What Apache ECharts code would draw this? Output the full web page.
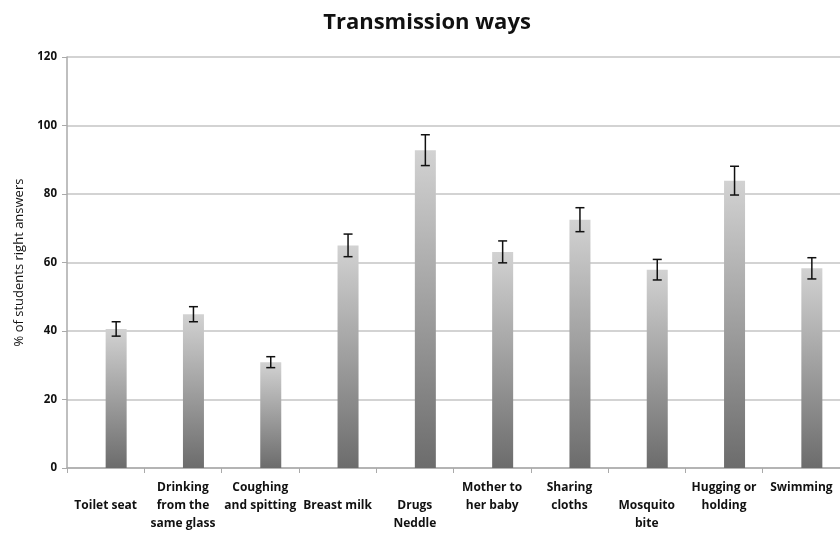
<!DOCTYPE html>
<html><head><meta charset="utf-8">
<script src="https://cdn.jsdelivr.net/npm/echarts@6/dist/echarts.min.js"></script>
<style>html,body{margin:0;padding:0;background:#fff}#c{width:840px;height:533px}</style>
</head><body><div id="c"></div>
<script>
const categories = ["Toilet seat","Drinking\nfrom the\nsame glass","Coughing\nand spitting","Breast milk","Drugs\nNeddle","Mother to\nher baby","Sharing\ncloths","Mosquito\nbite","Hugging or\nholding","Swimming"];
const values = [40.6, 44.9, 30.9, 65.0, 92.8, 63.1, 72.5, 57.9, 83.9, 58.3];
const errors = [2.1, 2.2, 1.6, 3.3, 4.5, 3.2, 3.5, 3.0, 4.2, 3.1];
const yTicks = [0, 20, 40, 60, 80, 100, 120];
// number of blank lines above each x label (layout only)
const labelLead = [1, 0, 0, 1, 1, 0, 0, 1, 0, 0];

const chart = echarts.init(document.getElementById('c'), null, {renderer: 'canvas'});
const font = '"Open Sans", Lato, sans-serif';
const BAR_W = 21;
const errData = values.map((v, i) => [i, v - errors[i], v + errors[i]]);

chart.setOption({
  animation: false,
  title: {
    text: 'Transmission ways', left: 422, top: 7, textAlign: 'center',
    textStyle: {fontFamily: font, fontSize: 22, fontWeight: 'bold', color: '#111'}
  },
  grid: {left: 67, right: -9, top: 57, bottom: 62, containLabel: false},
  xAxis: {
    type: 'category', data: categories, boundaryGap: true,
    axisLine: {lineStyle: {color: '#aaa', width: 1.5}},
    axisTick: {show: true, length: 5, lineStyle: {color: '#aaa'}},
    axisLabel: {
      interval: 0, margin: 11, lineHeight: 18, fontFamily: font, fontSize: 12, fontWeight: 'bold', color: '#111',
      formatter: (v, i) => '\n'.repeat(labelLead[i]) + v
    }
  },
  yAxis: {
    type: 'value', min: yTicks[0], max: yTicks[yTicks.length - 1], interval: 20,
    name: '% of students right answers', nameLocation: 'middle', nameGap: 41, nameRotate: 90,
    nameTextStyle: {fontFamily: font, fontSize: 13, color: '#111'},
    axisLine: {show: true, lineStyle: {color: '#aaa', width: 1.5}},
    axisTick: {show: true, length: 5, lineStyle: {color: '#aaa'}},
    axisLabel: {fontFamily: font, fontSize: 11.5, fontWeight: 'bold', color: '#111', margin: 10},
    splitLine: {lineStyle: {color: '#c4c4c4', width: 1.5}}
  },
  series: [
    {type: 'bar', name: 'blank', data: [], barWidth: BAR_W, barGap: '0%'},
    {
      type: 'bar', name: 'right answers', data: values, barWidth: BAR_W, barGap: '0%',
      itemStyle: {
        color: new echarts.graphic.LinearGradient(0, 0, 0, 1, [
          {offset: 0, color: '#d2d2d2'},
          {offset: 1, color: '#6c6c6c'}
        ])
      }
    },
    {
      type: 'custom', name: 'error', data: errData, z: 10,
      renderItem: function (params, api) {
        const i = api.value(0);
        const lo = api.coord([i, api.value(1)]);
        const hi = api.coord([i, api.value(2)]);
        const x = lo[0] + BAR_W / 2;
        const cap = 4.5;
        const style = {stroke: '#111', lineWidth: 1.5};
        return {
          type: 'group',
          children: [
            {type: 'line', shape: {x1: x, y1: hi[1], x2: x, y2: lo[1]}, style: style},
            {type: 'line', shape: {x1: x - cap, y1: hi[1], x2: x + cap, y2: hi[1]}, style: style},
            {type: 'line', shape: {x1: x - cap, y1: lo[1], x2: x + cap, y2: lo[1]}, style: style}
          ]
        };
      }
    }
  ]
});
</script>
</body></html>
